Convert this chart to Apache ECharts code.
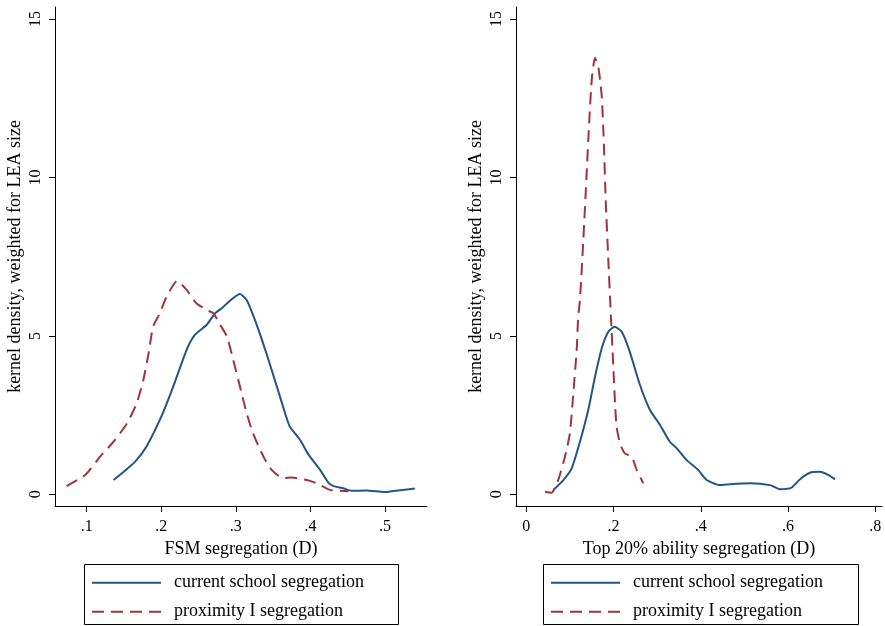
<!DOCTYPE html>
<html>
<head>
<meta charset="utf-8">
<script src="https://cdn.jsdelivr.net/npm/echarts@6/dist/echarts.min.js"></script>
<style>
html, body { margin: 0; padding: 0; background: #fff; }
#main { width: 885px; height: 626px; }
</style>
</head>
<body>
<div id="main"></div>
<script>
// kernel density curves, [x, density]
var fsmCurrent = [[0.136,0.45],[0.150,0.72],[0.165,1.03],[0.180,1.50],[0.200,2.45],[0.216,3.40],[0.234,4.56],[0.245,5.03],[0.261,5.35],[0.272,5.71],[0.281,5.87],[0.294,6.15],[0.3055,6.32],[0.3145,6.13],[0.323,5.66],[0.332,5.08],[0.341,4.45],[0.355,3.40],[0.366,2.56],[0.3725,2.13],[0.386,1.72],[0.397,1.27],[0.413,0.77],[0.424,0.37],[0.431,0.26],[0.444,0.19],[0.455,0.11],[0.475,0.12],[0.500,0.07],[0.520,0.13],[0.540,0.18]];
var fsmProximity = [[0.073,0.26],[0.098,0.61],[0.118,1.19],[0.136,1.66],[0.154,2.24],[0.167,2.87],[0.176,3.61],[0.183,4.45],[0.189,5.29],[0.198,5.71],[0.205,6.13],[0.212,6.45],[0.221,6.73],[0.234,6.45],[0.247,6.03],[0.261,5.82],[0.270,5.71],[0.279,5.35],[0.288,4.98],[0.2965,4.24],[0.3055,3.40],[0.3145,2.56],[0.323,1.93],[0.337,1.19],[0.348,0.77],[0.3635,0.51],[0.375,0.53],[0.395,0.45],[0.408,0.35],[0.426,0.14],[0.451,0.10]];
var abilityCurrent = [[0.062,0.14],[0.085,0.45],[0.104,0.82],[0.123,1.66],[0.142,2.66],[0.1575,3.71],[0.173,4.61],[0.188,5.13],[0.2025,5.29],[0.2187,5.13],[0.236,4.55],[0.2606,3.45],[0.2836,2.66],[0.3065,2.19],[0.329,1.66],[0.345,1.45],[0.3677,1.08],[0.394,0.77],[0.4135,0.45],[0.444,0.29],[0.467,0.32],[0.513,0.35],[0.5586,0.29],[0.5816,0.16],[0.608,0.21],[0.627,0.47],[0.650,0.68],[0.673,0.71],[0.692,0.61],[0.7076,0.47]];
var abilityProximity = [[0.043,0.08],[0.058,0.05],[0.073,0.45],[0.0887,1.19],[0.100,1.93],[0.1078,3.19],[0.1155,4.56],[0.119,5.61],[0.123,6.13],[0.1307,8.03],[0.1384,10.14],[0.1437,11.61],[0.150,13.08],[0.1575,13.77],[0.165,13.5],[0.173,12.55],[0.178,10.98],[0.182,9.29],[0.188,7.40],[0.194,5.61],[0.1995,4.03],[0.203,2.98],[0.207,2.13],[0.2148,1.61],[0.226,1.29],[0.2416,1.19],[0.253,0.77],[0.268,0.35]];

var yTicks = [0, 5, 10, 15];
var fsmTicks = [0.1, 0.2, 0.3, 0.4, 0.5];
var abilityTicks = [0, 0.2, 0.4, 0.6, 0.8];
var seriesNames = ['current school segregation', 'proximity I segregation'];
var yTitle = 'kernel density, weighted for LEA size';
var xTitles = ['FSM segregation (D)', 'Top 20% ability segregation (D)'];

var font = 'Liberation Serif';
var blue = '#22548a';
var red = '#a0343e';

var fmt = function (v) {
    var s = String(+(+v).toFixed(2));
    return s.replace(/^0\./, '.');
};

var xAxisFor = function (idx, min, max, ticks) {
    return {
        type: 'value', gridIndex: idx, min: min, max: max,
        name: xTitles[idx], nameLocation: 'middle', nameGap: 30,
        nameTextStyle: { fontFamily: font, fontSize: 18, color: '#000' },
        axisLine: { show: true, onZero: false, lineStyle: { color: '#000', width: 1 } },
        axisTick: { show: true, length: 6, customValues: ticks, lineStyle: { color: '#000' } },
        axisLabel: { customValues: ticks, formatter: fmt, margin: 13,
            fontFamily: font, fontSize: 16, color: '#000' },
        splitLine: { show: false }
    };
};
var yAxisFor = function (idx) {
    return {
        type: 'value', gridIndex: idx, min: -0.369, max: 15.38,
        name: yTitle, nameLocation: 'middle', nameGap: 31,
        nameTextStyle: { fontFamily: font, fontSize: 18, color: '#000' },
        axisLine: { show: true, onZero: false, lineStyle: { color: '#000', width: 1 } },
        axisTick: { show: true, length: 6, customValues: yTicks, lineStyle: { color: '#000' } },
        axisLabel: { customValues: yTicks, rotate: 90, margin: 11,
            fontFamily: font, fontSize: 16, color: '#000' },
        splitLine: { show: false }
    };
};
var lineFor = function (name, idx, data, dashed) {
    return {
        name: name, type: 'line', xAxisIndex: idx, yAxisIndex: idx,
        data: data, symbol: 'none', smooth: 0.2, animation: false,
        lineStyle: { color: dashed ? red : blue, width: 2, type: dashed ? [12, 7] : 'solid' },
        itemStyle: { color: dashed ? red : blue }
    };
};
var legendFor = function (left) {
    return {
        orient: 'vertical', left: left, top: 564, height: 60,
        data: seriesNames, itemWidth: 69, itemHeight: 16, itemGap: 11,
        padding: [9.7, 35, 7.7, 7],
        borderWidth: 0,
        selectedMode: false,
        itemStyle: { opacity: 0 },
        textStyle: { fontFamily: font, fontSize: 18, lineHeight: 16, color: '#000', padding: [0, 0, 0, 8] }
    };
};
var boxFor = function (x, w) {
    return {
        type: 'rect', silent: true,
        shape: { x: x + 0.5, y: 564.5, width: w, height: 60 },
        style: { fill: 'none', stroke: '#000', lineWidth: 1 }
    };
};

var chart = echarts.init(document.getElementById('main'), null, { renderer: 'canvas' });
chart.setOption({
    backgroundColor: '#fff',
    animation: false,
    grid: [
        { left: 55, top: 7, width: 372, height: 499 },
        { left: 516, top: 7, width: 366, height: 499 }
    ],
    xAxis: [xAxisFor(0, 0.0575, 0.5563, fsmTicks), xAxisFor(1, -0.0236, 0.8154, abilityTicks)],
    yAxis: [yAxisFor(0), yAxisFor(1)],
    legend: [legendFor(84), legendFor(543)],
    graphic: [boxFor(84, 314), boxFor(543, 315)],
    series: [
        lineFor(seriesNames[0], 0, fsmCurrent, false),
        lineFor(seriesNames[1], 0, fsmProximity, true),
        lineFor(seriesNames[0], 1, abilityCurrent, false),
        lineFor(seriesNames[1], 1, abilityProximity, true)
    ]
});
</script>
</body>
</html>
